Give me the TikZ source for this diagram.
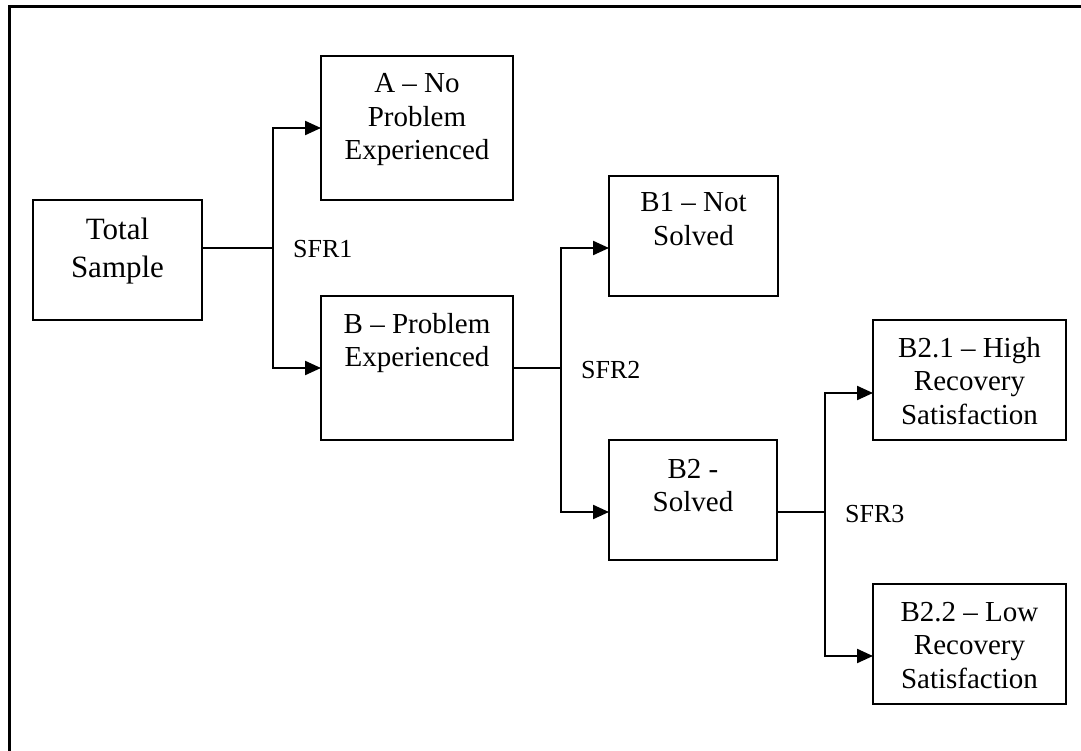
\documentclass[tikz,border=0pt]{standalone}
\usepackage{fontspec}
\setmainfont{Liberation Serif}
\usetikzlibrary{arrows.meta}
\newcommand\bxt[4]{\parbox[c][#2pt][t]{#1pt}{\centering\rule{0pt}{#3pt}#4}}
\tikzset{
  box/.style={draw, line width=1.5pt, inner sep=0pt, outer sep=0pt, font=\fontsize{29}{33.5}\selectfont},
  stub/.style={line width=1.5pt},
  arr/.style={line width=2.2pt, -{Triangle[length=16pt,width=14pt]}},
  sfr/.style={anchor=base west, inner sep=0pt, font=\fontsize{26}{30}\selectfont},
  frame/.style={line width=3pt}
}
\begin{document}
\begin{tikzpicture}[x=1pt,y=-1pt]
\useasboundingbox (0,0) rectangle (1081,751);
\draw[frame] (9,751) -- (9,6.5) -- (1081,6.5);

\node[box, font=\fontsize{31}{37}\selectfont] (T) at (117.5,260) {\bxt{169}{120}{40}{Total\\Sample}};
\node[box] (A) at (417,128) {\bxt{192}{144}{37}{A \textendash{} No\\Problem\\Experienced}};
\node[box] (B) at (417,368) {\bxt{192}{144}{37}{B \textendash{} Problem\\Experienced}};
\node[box] (B1) at (693.5,236) {\bxt{169}{120}{36}{B1 \textendash{} Not\\Solved}};
\node[box] (B2) at (693,500) {\bxt{168}{120}{38}{B2 -\\Solved}};
\node[box] (B21) at (969.5,380) {\bxt{193}{120}{37}{B2.1 \textendash{} High\\Recovery\\Satisfaction}};
\node[box] (B22) at (969.5,644) {\bxt{193}{120}{37}{B2.2 \textendash{} Low\\Recovery\\Satisfaction}};

\coordinate (j1) at (273,248);
\coordinate (j2) at (561,368);
\coordinate (j3) at (825,512);

\draw[stub] (T.east |- j1) -- (j1);
\draw[arr] (j1) |- (A.west);
\draw[arr] (j1) |- (B.west);

\draw[stub] (B.east) -- (j2);
\draw[arr] (j2) |- ([yshift=-12pt]B1.west);
\draw[arr] (j2) |- ([yshift=-12pt]B2.west);

\draw[stub] (B2.east |- j3) -- (j3);
\draw[arr] (j3) |- ([yshift=-13pt]B21.west);
\draw[arr] (j3) |- ([yshift=-12pt]B22.west);

\node[sfr] (s1) at (293,258) {SFR1};
\node[sfr] (s2) at (581,378) {SFR2};
\node[sfr] (s3) at (845,522) {SFR3};
\end{tikzpicture}
\end{document}
